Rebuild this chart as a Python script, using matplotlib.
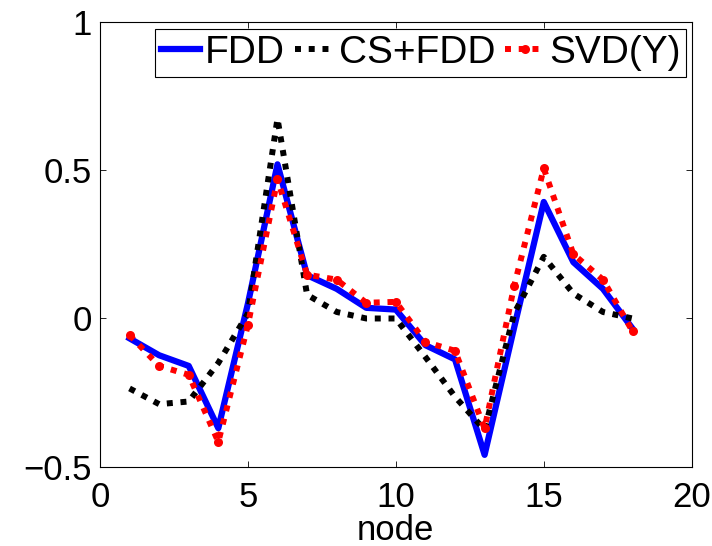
import numpy as np
import matplotlib
matplotlib.use('Agg')
import matplotlib.pyplot as plt
from matplotlib.ticker import FuncFormatter

plt.rcParams['font.family'] = ['Liberation Sans', 'DejaVu Sans']

# data
nodes = np.arange(1, 19)
fdd = [-0.067, -0.124, -0.16, -0.37, 0.05, 0.52, 0.146, 0.10, 0.036, 0.03,
       -0.09, -0.138, -0.46, -0.03, 0.393, 0.19, 0.10, -0.034]
cs_fdd = [-0.236, -0.289, -0.28, -0.15, 0.017, 0.674, 0.08, 0.022, 0.0, 0.0,
          -0.13, -0.264, -0.376, 0.017, 0.208, 0.084, 0.022, 0.0]
svd_y = [-0.056, -0.16, -0.19, -0.416, -0.022, 0.469, 0.148, 0.131, 0.053, 0.056,
         -0.079, -0.109, -0.371, 0.11, 0.506, 0.217, 0.131, -0.043]

fig = plt.figure(figsize=(7.12, 5.46), dpi=100)
ax = fig.add_axes([0.1404, 0.1452, 0.9715 - 0.1404, 0.9597 - 0.1452])

ax.plot(nodes, fdd, color='#0000ff', lw=4.5, label='FDD')
ax.plot(nodes, cs_fdd, color='black', lw=4.3, dashes=(1, 1.3),
        dash_capstyle='butt', label='CS+FDD')
ax.plot(nodes, svd_y, color='#ff0000', lw=4.3, dashes=(1, 1.3),
        dash_capstyle='butt', marker='o', ms=6.5, mec='none', label='SVD(Y)')

ax.set_xlim(0, 20)
ax.set_ylim(-0.5, 1)
ax.set_xticks([0, 5, 10, 15, 20])
ax.set_yticks([-0.5, 0, 0.5, 1])
ax.yaxis.set_major_formatter(FuncFormatter(lambda v, p: ('%g' % v).replace('-', '\u2212')))
ax.tick_params(direction='in', top=True, right=True, length=4.5, width=0.6,
               labelsize=25, pad=6)
ax.tick_params(axis='x', pad=10)
for s in ax.spines.values():
    s.set_linewidth(0.8)

ax.set_xlabel('node', fontsize=25, labelpad=0)

leg = ax.legend(loc='upper right', bbox_to_anchor=(0.991, 0.984), ncol=3,
                fontsize=28, frameon=True, fancybox=False, borderaxespad=0,
                handlelength=1.0, handletextpad=0.13, columnspacing=0.25,
                borderpad=0.15, framealpha=1)
leg.get_frame().set_edgecolor('black')
leg.get_frame().set_linewidth(0.8)

fig.savefig('out.png', dpi=100)
